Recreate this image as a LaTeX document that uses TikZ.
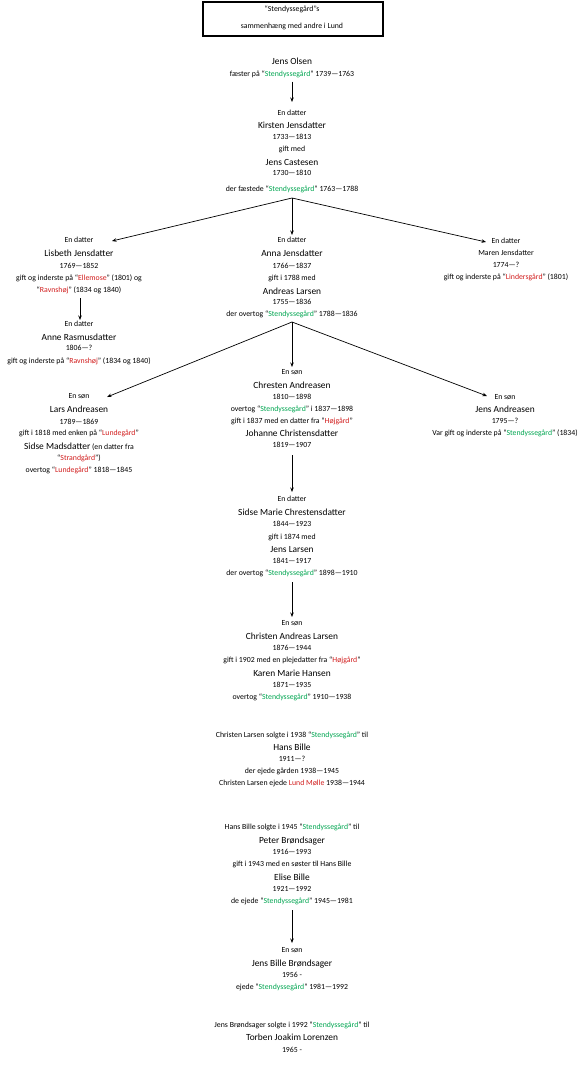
\documentclass[tikz,border=0pt]{standalone}
\usepackage{fontspec}
\setmainfont{Carlito}
\usetikzlibrary{arrows.meta}
\definecolor{sgreen}{RGB}{0,166,81}
\definecolor{sred}{RGB}{210,30,30}
\newcommand\gfarm[1]{“\textcolor{sgreen}{#1}”}
\newcommand\rfarm[1]{“\textcolor{sred}{#1}”}
\newcommand\sln[4]{\node[sm] (#1) at (#2,#3) {#4};}
\newcommand\nln[4]{\node[nm] (#1) at (#2,#3) {#4};}
\begin{document}
\begin{tikzpicture}[x=1pt,y=-1pt,
  sm/.style={anchor=base,inner sep=0pt,font=\fontsize{7.8}{9}\selectfont},
  nm/.style={anchor=base,inner sep=0pt,font=\fontsize{9.4}{11}\selectfont},
  arr/.style={draw=black,line width=0.7pt,-{Stealth[length=4.5pt,width=3.5pt]}},
  titlebox/.style={draw=black,line width=2pt,inner sep=0pt,minimum width=180pt,minimum height=34pt}]
\useasboundingbox[fill=white] (0,0) rectangle (585,1080);

% title
\node[titlebox] (title) at (292.5,18.5) {};
\sln{ti1}{292}{11.5}{“Stendyssegård”s}
\sln{ti2}{292}{28.5}{sammenhæng med andre i Lund}

% Jens Olsen
\nln{f0}{292}{64.5}{Jens Olsen}
\sln{f1}{292}{76.5}{fæster på \gfarm{Stendyssegård} 1739—1763}

% Kirsten
\sln{k0}{292}{115.5}{En datter}
\nln{k1}{292}{128}{Kirsten Jensdatter}
\sln{k2}{292}{139.5}{1733—1813}
\sln{k3}{292}{151.5}{gift med}
\nln{k4}{292}{165}{Jens Castesen}
\sln{k5}{292}{175.5}{1730—1810}
\sln{k6}{292}{191.5}{der fæstede \gfarm{Stendyssegård} 1763—1788}

% Lisbeth
\sln{l0}{79}{242.5}{En datter}
\nln{l1}{79}{256}{Lisbeth Jensdatter}
\sln{l2}{79}{268.5}{1769—1852}
\sln{l3}{79}{280.5}{gift og inderste på \rfarm{Ellemose} (1801) og}
\sln{l4}{79}{292.5}{\rfarm{Ravnshøj} (1834 og 1840)}
\sln{l5}{79}{326.5}{En datter}
\nln{l6}{79}{340}{Anne Rasmusdatter}
\sln{l7}{79}{350.5}{1806—?}
\sln{l8}{79}{363.5}{gift og inderste på \rfarm{Ravnshøj} (1834 og 1840)}

% Anna
\sln{a0}{292}{242.5}{En datter}
\nln{a1}{292}{256}{Anna Jensdatter}
\sln{a2}{292}{268.5}{1766—1837}
\sln{a3}{292}{280.5}{gift i 1788 med}
\nln{a4}{292}{294}{Andreas Larsen}
\sln{a5}{292}{304.5}{1755—1836}
\sln{a6}{292}{316.5}{der overtog \gfarm{Stendyssegård} 1788—1836}

% Maren
\sln{m0}{506}{243.5}{En datter}
\sln{m1}{506}{255.5}{Maren Jensdatter}
\sln{m2}{506}{267.5}{1774—?}
\sln{m3}{506}{279.5}{gift og inderste på \rfarm{Lindersgård} (1801)}

% Lars
\sln{r0}{79}{398.5}{En søn}
\nln{r1}{79}{412}{Lars Andreasen}
\sln{r2}{79}{424.5}{1789—1869}
\sln{r3}{79}{435.5}{gift i 1818 med enken på \rfarm{Lundegård}}
\sln{r4}{79}{449}{{\fontsize{9.4}{11}\selectfont Sidse Madsdatter} (en datter fra}
\sln{r5}{79}{460.5}{\rfarm{Strandgård})}
\sln{r6}{79}{472.5}{overtog \rfarm{Lundegård} 1818—1845}

% Chresten
\sln{c0}{292}{374.5}{En søn}
\nln{c1}{292}{388}{Chresten Andreasen}
\sln{c2}{292}{399.5}{1810—1898}
\sln{c3}{292}{411.5}{overtog \gfarm{Stendyssegård} i 1837—1898}
\sln{c4}{292}{423.5}{gift i 1837 med en datter fra \rfarm{Højgård}}
\nln{c5}{292}{436}{Johanne Christensdatter}
\sln{c6}{292}{447.5}{1819—1907}

% Jens Andreasen
\sln{j0}{505}{399.5}{En søn}
\nln{j1}{505}{412}{Jens Andreasen}
\sln{j2}{505}{423.5}{1795—?}
\sln{j3}{505}{435.5}{Var gift og inderste på \gfarm{Stendyssegård} (1834)}

% Sidse Marie
\sln{s0}{292}{501.5}{En datter}
\nln{s1}{292}{515}{Sidse Marie Chrestensdatter}
\sln{s2}{292}{526.5}{1844—1923}
\sln{s3}{292}{539.5}{gift i 1874 med}
\nln{s4}{292}{552}{Jens Larsen}
\sln{s5}{292}{563.5}{1841—1917}
\sln{s6}{292}{575.5}{der overtog \gfarm{Stendyssegård} 1898—1910}

% Christen Andreas
\sln{t0}{292}{625.5}{En søn}
\nln{t1}{292}{639}{Christen Andreas Larsen}
\sln{t2}{292}{650.5}{1876—1944}
\sln{t3}{292}{662.5}{gift i 1902 med en plejedatter fra \rfarm{Højgård}}
\nln{t4}{292}{676}{Karen Marie Hansen}
\sln{t5}{292}{687.5}{1871—1935}
\sln{t6}{292}{699.5}{overtog \gfarm{Stendyssegård} 1910—1938}

% Hans Bille
\sln{h0}{292}{737.5}{Christen Larsen solgte i 1938 \gfarm{Stendyssegård} til}
\nln{h1}{292}{750}{Hans Bille}
\sln{h2}{292}{761.5}{1911—?}
\sln{h3}{292}{773.5}{der ejede gården 1938—1945}
\sln{h4}{292}{785.5}{Christen Larsen ejede \textcolor{sred}{Lund Mølle} 1938—1944}

% Peter
\sln{p0}{292}{829.5}{Hans Bille solgte i 1945 \gfarm{Stendyssegård} til}
\nln{p1}{292}{843}{Peter Brøndsager}
\sln{p2}{292}{854.5}{1916—1993}
\sln{p3}{292}{866.5}{gift i 1943 med en søster til Hans Bille}
\nln{p4}{292}{880}{Elise Bille}
\sln{p5}{292}{891.5}{1921—1992}
\sln{p6}{292}{903.5}{de ejede \gfarm{Stendyssegård} 1945—1981}

% Jens Bille
\sln{b0}{292}{952.5}{En søn}
\nln{b1}{292}{966}{Jens Bille Brøndsager}
\sln{b2}{292}{977.5}{1956 -}
\sln{b3}{292}{989.5}{ejede \gfarm{Stendyssegård} 1981—1992}

% Torben
\sln{z0}{292}{1027.5}{Jens Brøndsager solgte i 1992 \gfarm{Stendyssegård} til}
\nln{z1}{292}{1040}{Torben Joakim Lorenzen}
\sln{z2}{292}{1052.5}{1965 -}

% connectors
\coordinate (kx) at ([yshift=-6.5pt]k6.base);
\coordinate (ax) at ([yshift=-5.5pt]a6.base);
\draw[arr] ([yshift=-5pt]f1.base) -- ([yshift=13.5pt]k0.base);
\draw[arr] (kx) -- ([xshift=33pt,yshift=1.5pt]l0.base);
\draw[arr] (kx) -- ([yshift=7.5pt]a0.base);
\draw[arr] (kx) -- ([xshift=-20pt,yshift=1.5pt]m0.base);
\draw[arr] ([xshift=1pt,yshift=-5.5pt]l4.base) -- ([xshift=1pt,yshift=6.5pt]l5.base);
\draw[arr] (ax) -- ([xshift=28pt,yshift=1.5pt]r0.base);
\draw[arr] (ax) -- ([yshift=7.5pt]c0.base);
\draw[arr] (ax) -- ([xshift=-18pt,yshift=3.5pt]j0.base);
\draw[arr] ([yshift=-7.5pt]c6.base) -- ([yshift=9.5pt]s0.base);
\draw[arr] ([yshift=-6.5pt]s6.base) -- ([yshift=8.5pt]t0.base);
\draw[arr] ([yshift=-6.5pt]p6.base) -- ([yshift=9.5pt]b0.base);
\end{tikzpicture}
\end{document}
